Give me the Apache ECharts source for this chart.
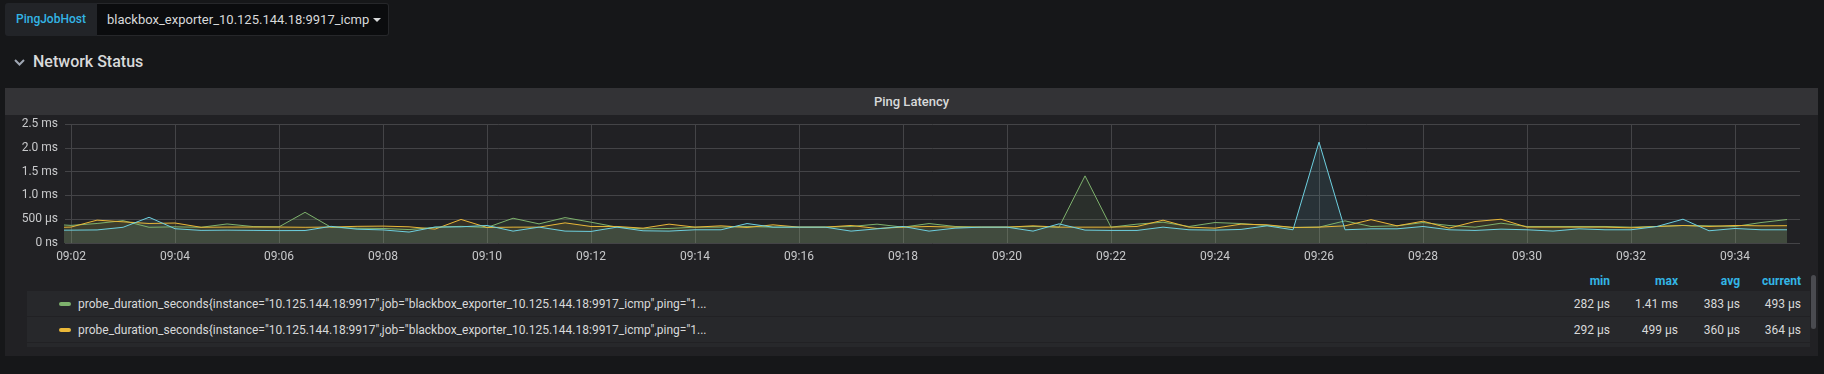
<!DOCTYPE html>
<html>
<head>
<meta charset="utf-8">
<script src="https://cdn.jsdelivr.net/npm/echarts@6/dist/echarts.min.js"></script>
<style>
html,body{margin:0;padding:0;background:#161719;width:1824px;height:374px;overflow:hidden;font-family:Roboto,'Noto Sans',sans-serif;}
.abs{position:absolute;white-space:nowrap;}
#varLabel{left:5px;top:3px;width:81px;height:33px;line-height:33px;padding-left:11px;background:#222428;color:#33b5e5;font-size:12px;font-weight:500;border-radius:3px 0 0 3px;}
#varSelect{left:97px;top:3px;width:281px;height:31px;line-height:32px;padding-left:10px;background:#0b0c0e;border:1px solid #26272a;border-left:none;color:#d8d9da;font-size:13px;border-radius:0 3px 3px 0;}
#caret{left:373px;top:18px;width:0;height:0;border-left:4px solid transparent;border-right:4px solid transparent;border-top:4px solid #d8d9da;}
#rowTitle{left:33px;top:51px;height:22px;line-height:22px;color:#d8d9da;font-size:16px;font-weight:500;}
#panel{left:5px;top:88px;width:1813px;height:268px;background:#212124;}
#panelHead{left:5px;top:88px;width:1813px;height:27px;background:#333336;}
#panelTitle{left:5px;top:88px;width:1813px;height:27px;line-height:27px;text-align:center;color:#d8d9da;font-size:13px;font-weight:500;}
.lrow{left:27px;width:1783px;background:#27282b;}
.lhead{width:100px;text-align:right;color:#33b5e5;font-size:12px;font-weight:700;height:16px;line-height:16px;}
.lval{width:100px;text-align:right;color:#d8d9da;font-size:12px;height:16px;line-height:16px;}
.ltext{left:78px;color:#d8d9da;font-size:12px;height:16px;line-height:16px;}
.lsw{left:59px;width:12px;height:4px;border-radius:2px;}
#scroll{left:1811px;top:275px;width:5px;height:54px;background:#4a4b50;border-radius:3px;}
#chart{left:0;top:0;width:1824px;height:374px;}
</style>
</head>
<body>
<div class="abs" id="panel"></div>
<div class="abs" id="panelHead"></div>
<div class="abs" id="panelTitle">Ping Latency</div>
<div class="abs" id="varLabel">PingJobHost</div>
<div class="abs" id="varSelect">blackbox_exporter_10.125.144.18:9917_icmp</div>
<div class="abs" id="caret"></div>
<svg class="abs" style="left:12px;top:56px;" width="16" height="12"><polyline points="3,4 7.5,8.5 12,4" fill="none" stroke="#9fa7b3" stroke-width="2"/></svg>
<div class="abs" id="rowTitle">Network Status</div>
<div id="legend"></div>
<div class="abs" id="scroll"></div>
<div class="abs" id="chart"></div>
<script>
// ---- data ----
const times = [
 '09:01:30','09:02:00','09:02:30','09:03:00','09:03:30','09:04:00','09:04:30','09:05:00','09:05:30','09:06:00',
 '09:06:30','09:07:00','09:07:30','09:08:00','09:08:30','09:09:00','09:09:30','09:10:00','09:10:30','09:11:00',
 '09:11:30','09:12:00','09:12:30','09:13:00','09:13:30','09:14:00','09:14:30','09:15:00','09:15:30','09:16:00',
 '09:16:30','09:17:00','09:17:30','09:18:00','09:18:30','09:19:00','09:19:30','09:20:00','09:20:30','09:21:00',
 '09:21:30','09:22:00','09:22:30','09:23:00','09:23:30','09:24:00','09:24:30','09:25:00','09:25:30','09:26:00',
 '09:26:30','09:27:00','09:27:30','09:28:00','09:28:30','09:29:00','09:29:30','09:30:00','09:30:30','09:31:00',
 '09:31:30','09:32:00','09:32:30','09:33:00','09:33:30','09:34:00','09:34:30','09:35:00'
];
// values in microseconds
const greenSeries = [
 400,370,410,470,330,340,330,400,345,340,
 645,330,310,305,282,330,350,326,520,402,
 534,437,333,298,305,333,333,347,333,333,
 333,347,396,333,409,347,333,333,347,333,
 1410,333,396,437,347,430,409,368,326,333,
 465,347,361,430,368,333,416,347,347,347,
 347,333,347,368,361,347,430,493
];
const yellowSeries = [
 320,335,480,445,410,420,330,335,335,335,
 330,335,350,355,340,292,495,326,333,333,
 423,347,347,312,396,333,361,326,382,333,
 333,368,305,333,347,333,333,333,361,333,
 333,333,347,479,333,312,396,382,326,333,
 361,490,361,458,312,451,499,333,333,333,
 333,319,347,368,347,368,361,364
];
const cyanSeries = [
 270,270,275,330,540,300,265,270,265,260,
 262,350,290,275,230,335,340,368,250,333,
 250,243,333,257,250,278,278,409,333,333,
 333,250,298,347,250,312,333,333,250,402,
 271,264,264,333,278,271,285,361,278,2120,
 278,298,298,347,278,264,291,278,250,298,
 278,278,347,500,257,305,278,278
];
const xTickLabels = ['09:02','09:04','09:06','09:08','09:10','09:12','09:14','09:16','09:18','09:20','09:22','09:24','09:26','09:28','09:30','09:32','09:34'];
const yTickValues = [0,500,1000,1500,2000,2500];
const yTickLabels = ['0 ns','500 µs','1.0 ms','1.5 ms','2.0 ms','2.5 ms'];
const viewStart = '09:01:53';
const viewEnd = '09:35:15';
const legendNames = [
 'probe_duration_seconds{instance="10.125.144.18:9917",job="blackbox_exporter_10.125.144.18:9917_icmp",ping="1...',
 'probe_duration_seconds{instance="10.125.144.18:9917",job="blackbox_exporter_10.125.144.18:9917_icmp",ping="1...'
];
const statHeaders = ['min','max','avg','current'];
const statValues = [
 ['282 µs','1.41 ms','383 µs','493 µs'],
 ['292 µs','499 µs','360 µs','364 µs']
];
const seriesColors = ['#7eb26d','#eab839','#6ed0e0'];

// ---- helpers ----
function toSec(s){const p=s.split(':').map(Number);return (p[0]-9)*3600+p[1]*60+(p[2]||0);}
const xTickValues = xTickLabels.map(toSec);
const xLabelMap = {}; xTickValues.forEach((v,i)=>xLabelMap[v]=xTickLabels[i]);
const yLabelMap = {}; yTickValues.forEach((v,i)=>yLabelMap[v]=yTickLabels[i]);

// ---- legend table (HTML) ----
const leg = document.getElementById('legend');
const colRight = [1610,1678,1740,1801];
let html='';
statHeaders.forEach((h,i)=>{html+=`<div class="abs lhead" style="left:${colRight[i]-100}px;top:273px;">${h}</div>`;});
const rowTops=[291,317];
legendNames.forEach((n,r)=>{
  const top=rowTops[r];
  html+=`<div class="abs lrow" style="top:${top}px;height:25px;"></div>`;
  html+=`<div class="abs lsw" style="top:${top+11}px;background:${seriesColors[r]};"></div>`;
  const t=document.createElement('span');t.textContent=n;
  html+=`<div class="abs ltext" style="top:${top+5}px;">${t.innerHTML}</div>`;
  statValues[r].forEach((v,i)=>{html+=`<div class="abs lval" style="left:${colRight[i]-100}px;top:${top+5}px;">${v}</div>`;});
});
html+=`<div class="abs lrow" style="top:343px;height:4px;"></div>`;
leg.innerHTML=html;

// ---- chart ----
const chart = echarts.init(document.getElementById('chart'), null, {renderer:'canvas'});
const axisFont = {color:'#c8c9cb', fontSize:12, fontFamily:'Roboto'};
const gridColor = '#444447';
function mk(name, vals, color){
  return {
    name, type:'line', data: times.map((t,i)=>[toSec(t), vals[i]]),
    showSymbol:false, symbol:'none', clip:true,
    lineStyle:{color, width:1}, itemStyle:{color},
    areaStyle:{color, opacity:0.1}, emphasis:{disabled:true}
  };
}
chart.setOption({
  backgroundColor:'transparent',
  animation:false,
  grid:{left:65, top:124, width:1735, height:119, containLabel:false},
  xAxis:{
    type:'value', min:toSec(viewStart), max:toSec(viewEnd),
    axisLine:{show:false},
    axisTick:{show:false, customValues:xTickValues},
    axisLabel:{...axisFont, margin:8, customValues:xTickValues, formatter:v=>xLabelMap[v]||''},
    splitLine:{show:true, lineStyle:{color:gridColor, width:1}}
  },
  yAxis:{
    type:'value', min:0, max:2500, interval:500,
    axisLine:{show:false}, axisTick:{show:false},
    axisLabel:{...axisFont, margin:7, formatter:v=>yLabelMap[v]||''},
    splitLine:{show:true, lineStyle:{color:gridColor, width:1}}
  },
  series:[
    mk('green', greenSeries, seriesColors[0]),
    mk('yellow', yellowSeries, seriesColors[1]),
    mk('cyan', cyanSeries, seriesColors[2])
  ]
});
</script>
</body>
</html>
